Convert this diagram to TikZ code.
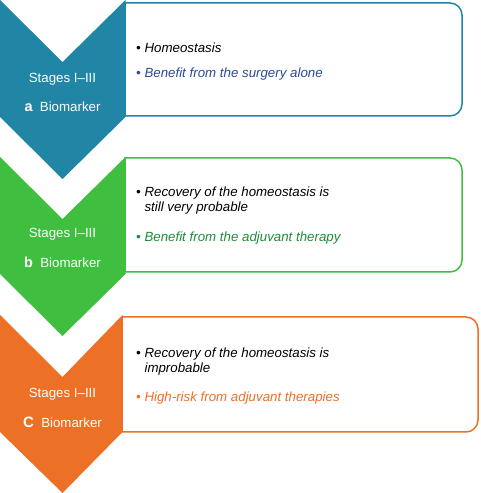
\documentclass[tikz,border=0pt]{standalone}
\usepackage{fontspec}
\setmainfont{Liberation Sans}
\definecolor{cblue}{RGB}{33,133,166}
\definecolor{cgreen}{RGB}{64,190,64}
\definecolor{corange}{RGB}{236,112,38}
\definecolor{tblue}{RGB}{43,74,154}
\definecolor{tgreen}{RGB}{30,140,60}
\definecolor{torange}{RGB}{236,112,38}
\begin{document}
\begin{tikzpicture}[x=1pt,y=1pt,
  chev/.style={fill=#1,draw=none},
  infobox/.style={draw=#1,line width=1.5pt,fill=white},
  stagetxt/.style={text=white,font=\fontsize{13.3}{15.5}\selectfont,anchor=base,inner sep=0pt},
  bullettxt/.style={font=\itshape\fontsize{13.3}{15.5}\selectfont,anchor=base west,inner sep=0pt,align=left}]
\useasboundingbox (0,0) rectangle (480,493);
% boxes
\draw[infobox=cblue] (125,377) -- (125,490) -- (450,490) arc[start angle=90,end angle=0,radius=12] -- (462,389) arc[start angle=0,end angle=-90,radius=12] -- cycle;
\draw[infobox=cgreen] (125,221) -- (125,335) -- (450,335) arc[start angle=90,end angle=0,radius=12] -- (462,233) arc[start angle=0,end angle=-90,radius=12] -- cycle;
\draw[infobox=corange] (122,61) -- (122,176) -- (466,176) arc[start angle=90,end angle=0,radius=12] -- (478,73) arc[start angle=0,end angle=-90,radius=12] -- cycle;
% chevrons
\fill[chev=cblue] (0,493) -- (62.5,431) -- (125.5,493) -- (125.5,376) -- (62.5,314) -- (0,376) -- cycle;
\fill[chev=cgreen] (0,336) -- (62.5,274) -- (125.5,336) -- (125.5,219) -- (62.5,157) -- (0,219) -- cycle;
\fill[chev=corange] (0,178) -- (62.5,116) -- (122.5,178) -- (122.5,61) -- (62.5,0) -- (0,61) -- cycle;
% chevron texts
\node[stagetxt] (sa) at (62.5,410) {Stages I–III};
\node[stagetxt] (ba) at (62.5,381) {{\fontsize{14.5}{15}\selectfont\bfseries a}\hspace{0.55em}Biomarker};
\node[stagetxt] (sb) at (62.5,255) {Stages I–III};
\node[stagetxt] (bb) at (62.5,225) {{\fontsize{14.5}{15}\selectfont\bfseries b}\hspace{0.55em}Biomarker};
\node[stagetxt] (sc) at (62.5,95) {Stages I–III};
\node[stagetxt] (bc) at (62.5,65) {{\fontsize{15}{15}\selectfont\bfseries C}\hspace{0.55em}Biomarker};
% box texts
\node[bullettxt] (a1) at (136,440) {•\ Homeostasis};
\node[bullettxt,text=tblue] (a2) at (136,415) {•\ Benefit from the surgery alone};
\node[bullettxt] (b1) at (136,281) {•\ Recovery of the homeostasis is\\\phantom{•\ }still very probable};
\node[bullettxt,text=tgreen] (b2) at (136,251) {•\ Benefit from the adjuvant therapy};
\node[bullettxt] (c1) at (136,120) {•\ Recovery of the homeostasis is\\\phantom{•\ }improbable};
\node[bullettxt,text=torange] (c2) at (136,91) {•\ High-risk from adjuvant therapies};
\end{tikzpicture}
\end{document}
